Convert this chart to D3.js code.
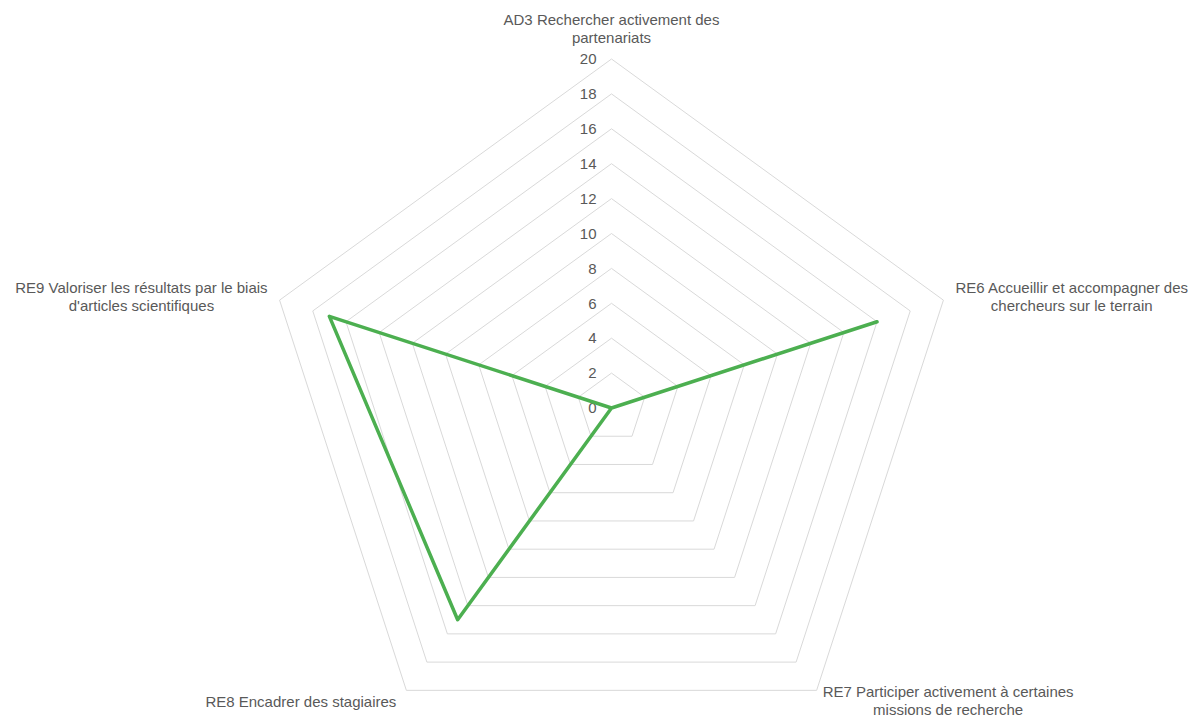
<!DOCTYPE html>
<html><head><meta charset="utf-8">
<script src="https://cdn.jsdelivr.net/npm/d3@7"></script>
<style>body{margin:0;background:#fff}svg{display:block}</style>
</head><body>
<svg id="c" width="1202" height="717"></svg>
<script>
const categories = [
  ["AD3 Rechercher activement des", "partenariats"],
  ["RE6 Accueillir et accompagner des", "chercheurs sur le terrain"],
  ["RE7 Participer activement à certaines", "missions de recherche"],
  ["RE8 Encadrer des stagiaires"],
  ["RE9 Valoriser les résultats par le biais", "d'articles scientifiques"]
];
const values = [0, 16, 0, 15, 17];
const ticks = [0, 2, 4, 6, 8, 10, 12, 14, 16, 18, 20];

const W = 1202, H = 717, cx = 611.5, cy = 408, R = 349;
const svg = d3.select("#c");
const r = d3.scaleLinear().domain([0, 20]).range([0, R]);
const n = categories.length;
const ang = d3.scaleLinear().domain([0, n]).range([0, 2 * Math.PI]);
const pt = (i, v) => [cx + r(v) * Math.sin(ang(i)), cy - r(v) * Math.cos(ang(i))];

const g = svg.append("g");
// grid pentagons
ticks.forEach(t => {
  g.append("polygon")
    .attr("points", d3.range(n).map(i => pt(i, t).join(",")).join(" "))
    .attr("fill", "none").attr("stroke", "#d9d9d9").attr("stroke-width", 1);
});
// tick labels
g.selectAll("text.tick").data(ticks).join("text")
  .attr("class", "tick")
  .attr("x", cx - 15).attr("y", d => cy - r(d))
  .attr("dy", "0.35em").attr("text-anchor", "end")
  .attr("font-family", "Liberation Sans, Arial, sans-serif")
  .attr("font-size", 15).attr("fill", "#595959")
  .text(d => d);

// data line
const line = d3.line().curve(d3.curveLinearClosed);
g.append("path")
  .attr("d", line(values.map((v, i) => pt(i, v))))
  .attr("fill", "none").attr("stroke", "#4caf50").attr("stroke-width", 3.5)
  .attr("stroke-linejoin", "round");

// category labels
const lh = 18;
categories.forEach((lines, i) => {
  const [vx, vy] = pt(i, 20);
  const t = g.append("text")
    .attr("font-family", "Liberation Sans, Arial, sans-serif")
    .attr("font-size", 15).attr("fill", "#595959").attr("text-anchor", "middle");
  lines.forEach((s, k) => t.append("tspan").attr("x", 0).attr("dy", k ? lh : 0).text(s));
  const bb = t.node().getBBox();
  let x, y;
  if (i === 0) { x = vx; y = vy - 22.5 - (lines.length - 1) * lh; }
  else if (i === 1) { x = vx + 12 + bb.width / 2; y = vy - 13.5; }
  else if (i === 2) { x = vx + 6 + bb.width / 2; y = vy + 1; }
  else if (i === 3) { x = vx - 10 - bb.width / 2; y = vy + 11; }
  else { x = vx - 12 - bb.width / 2; y = vy - 13.5; }
  t.attr("transform", `translate(${x},${y})`).attr("dominant-baseline", "central");
  t.selectAll("tspan").attr("dominant-baseline", "central");
});
</script>
</body></html>
